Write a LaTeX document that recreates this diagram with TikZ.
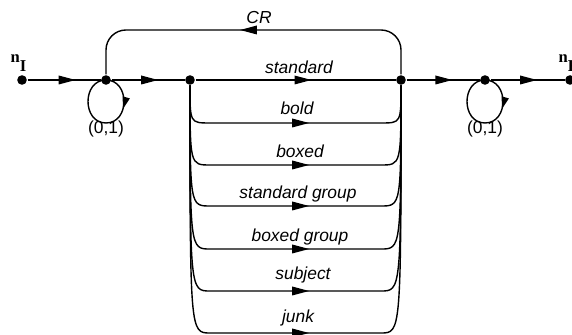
\documentclass[tikz,border=0pt]{standalone}
\usepackage{fontspec}
\newfontfamily\lblsans{Liberation Sans}
\newfontfamily\lblserif{Liberation Serif}
\usetikzlibrary{arrows.meta,decorations.markings,calc}
\begin{document}
\begin{tikzpicture}[x=0.5pt,y=-0.5pt,line width=0.7pt,
  dot/.style={circle,fill=black,inner sep=0pt,minimum size=4.8pt},
  lbl/.style={font=\lblsans\itshape\fontsize{8.7}{10}\selectfont,anchor=base,inner sep=0pt},
  num/.style={font=\lblsans\fontsize{8.7}{10}\selectfont,inner sep=0pt},
  nlbl/.style={font=\lblserif\bfseries\fontsize{8.3}{10}\selectfont,inner sep=0pt,anchor=base west},
  midarrow/.style={postaction={decorate},decoration={markings,mark=at position #1 with {\arrow{Triangle[length=8.5pt,width=4.3pt]}}}},
  looparrow/.style={postaction={decorate},decoration={markings,mark=at position #1 with {\arrow{Triangle[length=6pt,width=3.6pt]}}}}]
\useasboundingbox (0,0) rectangle (572,335);

% main nodes
\node[dot] (nI) at (22,80) {};
\node[dot] (n1) at (106,80) {};
\node[dot] (n2) at (190,80) {};
\node[dot] (n3) at (401,80) {};
\node[dot] (n4) at (485,80) {};
\node[dot] (nF) at (570,80) {};

\node[nlbl] (nIlab) at (10,63) {n\raisebox{-4.5pt}{I}};
\node[nlbl] (nFlab) at (558,63) {n\raisebox{-4.5pt}{F}};

% main line
\draw[midarrow=0.66] (nI) -- (n1);
\draw[midarrow=0.64] (n1) -- (n2);
\draw[midarrow=0.58] (n2) -- (n3);
\draw[midarrow=0.63] (n3) -- (n4);
\draw[midarrow=0.63] (n4) -- (nF);
\node[lbl] (tstd) at (299,74) {standard};

% CR loop back
\coordinate (crtop) at (250,30);
\coordinate (crr) at (385,30);
\coordinate (crl) at (126,30);
\draw[rounded corners=10pt] (n3) |- (crtop) -| (n1);
\path[midarrow=0.56] (crr) -- (crl);
\node[lbl,anchor=center] (tcr) at (259,18) {CR};

% self loops
\foreach \nd in {n1,n4}{
  \draw[looparrow=0.31] (\nd.center) .. controls ($(\nd)+(24,0)$) and ($(\nd)+(24,43)$) .. ($(\nd)+(0,43)$)
     .. controls ($(\nd)+(-24,43)$) and ($(\nd)+(-24,0)$) .. (\nd.center);
  \node[num] (l\nd) at ($(\nd)+(0,49)$) {(0,1)};
}

% branches
\foreach \i/\yb/\by/\tx/\txt in {1/123/115/297/bold, 2/165/158/300/boxed, 3/206/199/298/standard group,
   4/249/242/300/boxed group, 5/291/280/303/subject, 6/333/323/298/junk}{
  \coordinate (bl\i) at (210,\yb);
  \coordinate (br\i) at (381,\yb);
  \draw (n2) .. controls (n2 |- bl\i) .. (bl\i) -- (br\i) .. controls (n3 |- br\i) .. (n3);
  \path[midarrow=0.58] (bl\i) -- (br\i);
  \node[lbl] (t\i) at (\tx,\by) {\txt};
}
\end{tikzpicture}
\end{document}
